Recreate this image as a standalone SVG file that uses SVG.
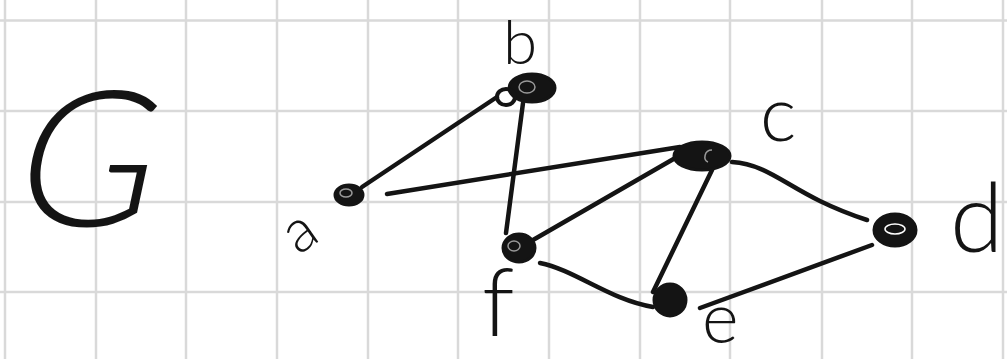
<svg xmlns="http://www.w3.org/2000/svg" width="1007" height="359" viewBox="0 0 1007 359">
<style>
.grid line{stroke:#d9d9d9;stroke-width:2.5}
.edge{fill:none;stroke:#141414;stroke-width:4.5;stroke-linecap:round}
.node{fill:#141414;stroke:#141414;stroke-width:3}
.hl{fill:none;stroke:#9a9a9a;stroke-width:1.5}
.lbl{font-family:Lato,"Open Sans","Liberation Sans",sans-serif;font-weight:300;fill:#141414}
</style>
<rect width="1007" height="359" fill="#fff"/>
<g class="grid">
<line x1="5" y1="0" x2="5" y2="359"/><line x1="96" y1="0" x2="96" y2="359"/><line x1="186" y1="0" x2="186" y2="359"/><line x1="277" y1="0" x2="277" y2="359"/><line x1="368" y1="0" x2="368" y2="359"/><line x1="458" y1="0" x2="458" y2="359"/><line x1="549" y1="0" x2="549" y2="359"/><line x1="640" y1="0" x2="640" y2="359"/><line x1="730" y1="0" x2="730" y2="359"/><line x1="822" y1="0" x2="822" y2="359"/><line x1="912" y1="0" x2="912" y2="359"/><line x1="1003" y1="0" x2="1003" y2="359"/>
<line x1="0" y1="20.5" x2="1007" y2="20.5"/><line x1="0" y1="111" x2="1007" y2="111"/><line x1="0" y1="202" x2="1007" y2="202"/><line x1="0" y1="292" x2="1007" y2="292"/>
</g>
<g id="edges">
<path class="edge" d="M362 187 L497 97"/>
<path class="edge" d="M387 194 L680 147"/>
<path class="edge" d="M523 103 L506 233"/>
<path class="edge" d="M533 240 L677 157"/>
<path class="edge" d="M540 263 C575 270 610 300 653 307"/>
<path class="edge" d="M712 170 L653 292"/>
<path class="edge" d="M732 162 C775 165 790 195 867 220"/>
<path class="edge" d="M700 308 L872 245"/>
</g>
<g id="node-a"><ellipse class="node" cx="349" cy="195" rx="14" ry="10"/><ellipse class="hl" cx="346" cy="193" rx="6" ry="4"/></g>
<g id="node-b"><ellipse class="node" cx="532" cy="88" rx="23" ry="14"/><ellipse cx="506" cy="97" rx="9" ry="8" fill="none" stroke="#141414" stroke-width="4"/><ellipse class="hl" cx="527" cy="87" rx="8" ry="6"/></g>
<g id="node-c"><ellipse class="node" cx="702" cy="156" rx="28" ry="14"/><path class="hl" d="M712 150 C704 150 703 160 708 162"/></g>
<g id="node-d"><ellipse class="node" cx="895" cy="230" rx="21" ry="16"/><ellipse cx="895" cy="229" rx="10" ry="5" fill="none" stroke="#fff" stroke-width="1.5"/></g>
<g id="node-e"><ellipse class="node" cx="670" cy="300" rx="16" ry="16"/></g>
<g id="node-f"><ellipse class="node" cx="519" cy="248" rx="16" ry="14"/><ellipse class="hl" cx="514" cy="246" rx="6" ry="5"/></g>
<g id="labels">
<text class="lbl" x="15" y="226" font-size="190" font-weight="200" transform="skewX(-12) translate(40 0)">G</text>
<text class="lbl" x="302" y="250" font-size="60" text-anchor="middle" transform="rotate(-35 302 236)">a</text>
<text class="lbl" x="503" y="64" font-size="62">b</text>
<text class="lbl" x="760" y="141" font-size="77">c</text>
<text class="lbl" x="950" y="252" font-size="97">d</text>
<text class="lbl" x="702" y="343" font-size="70">e</text>
<text class="lbl" x="482" y="336" font-size="95">f</text>
</g>
</svg>
